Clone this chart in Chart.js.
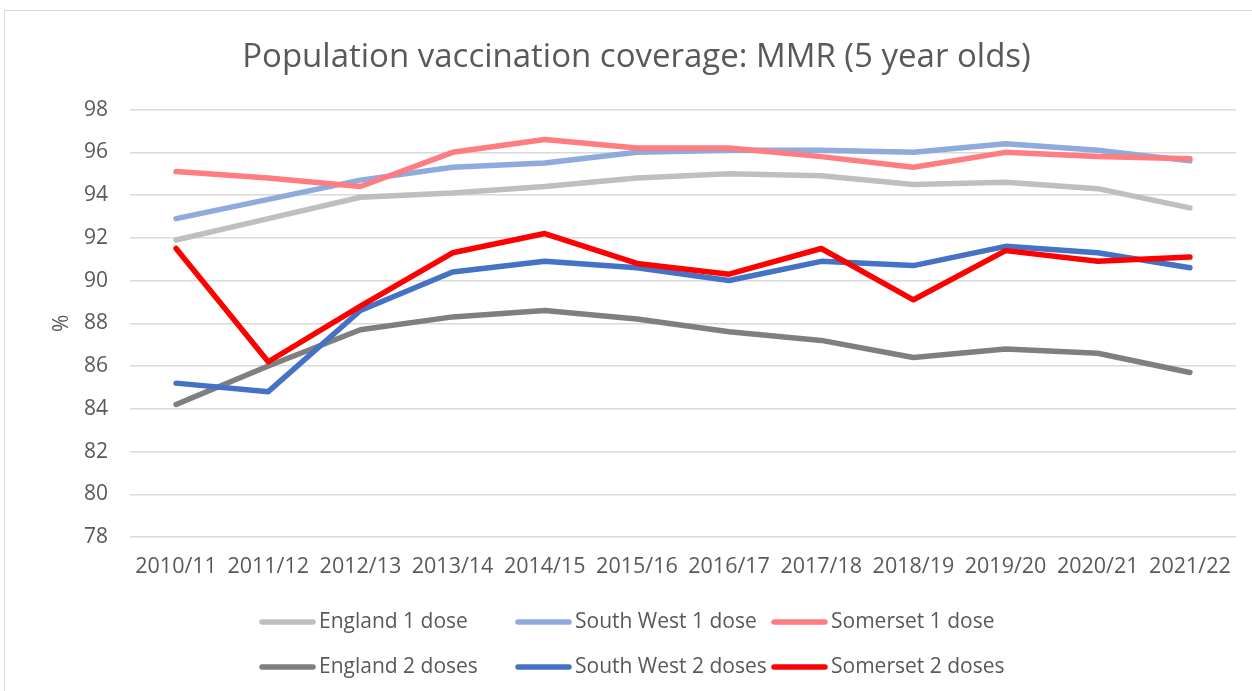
<!DOCTYPE html>
<html>
<head>
<meta charset="utf-8">
<script src="https://cdn.jsdelivr.net/npm/chart.js@4/dist/chart.umd.min.js"></script>
<style>
  html, body { margin: 0; padding: 0; background: #ffffff; }
  #frame { position: absolute; left: 4px; top: 10px; width: 1300px; height: 760px; border: 1px solid #d9d9d9; box-sizing: border-box; }
  #wrap { position: absolute; left: 0; top: 0; width: 1252px; height: 691px; }
</style>
</head>
<body>
<div id="frame"></div>
<div id="wrap"><canvas id="c" width="1252" height="691"></canvas></div>
<script>
const categories = ['2010/11','2011/12','2012/13','2013/14','2014/15','2015/16','2016/17','2017/18','2018/19','2019/20','2020/21','2021/22'];
const england1 = [91.9, 92.9, 93.9, 94.1, 94.4, 94.8, 95.0, 94.9, 94.5, 94.6, 94.3, 93.4];
const southWest1 = [92.9, 93.8, 94.7, 95.3, 95.5, 96.0, 96.1, 96.1, 96.0, 96.4, 96.1, 95.6];
const somerset1 = [95.1, 94.8, 94.4, 96.0, 96.6, 96.2, 96.2, 95.8, 95.3, 96.0, 95.8, 95.7];
const england2 = [84.2, 86.0, 87.7, 88.3, 88.6, 88.2, 87.6, 87.2, 86.4, 86.8, 86.6, 85.7];
const southWest2 = [85.2, 84.8, 88.6, 90.4, 90.9, 90.6, 90.0, 90.9, 90.7, 91.6, 91.3, 90.6];
const somerset2 = [91.5, 86.2, 88.8, 91.3, 92.2, 90.8, 90.3, 91.5, 89.1, 91.4, 90.9, 91.1];
const seriesNames = ['England 1 dose','South West 1 dose','Somerset 1 dose','England 2 doses','South West 2 doses','Somerset 2 doses'];
const yTickMin = 78, yTickMax = 98, yTickStep = 2;

const colors = ['#BFBFBF','#8FAADC','#FF7C80','#7F7F7F','#4472C4','#FF0000'];
const seriesValues = [england1, southWest1, somerset1, england2, southWest2, somerset2];
const FONT = "'Open Sans', 'Liberation Sans', sans-serif";
const TXT = '#595959';
const LW = 5.5;

const datasets = seriesValues.map((vals, i) => ({
  label: seriesNames[i],
  data: vals,
  borderColor: colors[i],
  backgroundColor: colors[i],
  borderWidth: LW,
  borderCapStyle: 'round',
  borderJoinStyle: 'round',
  pointRadius: 0,
  pointHoverRadius: 0,
  tension: 0,
  fill: false,
  order: seriesValues.length - i
}));

const gridLegend = {
  id: 'gridLegend',
  afterDraw(chart) {
    const ctx = chart.ctx;
    const colX = [260, 516, 772];
    const rowY = [622, 667];
    ctx.save();
    ctx.font = '21px ' + FONT;
    ctx.textBaseline = 'middle';
    ctx.textAlign = 'left';
    chart.data.datasets.forEach((ds, i) => {
      const x = colX[i % 3], y = rowY[Math.floor(i / 3)];
      ctx.strokeStyle = ds.borderColor;
      ctx.lineWidth = LW;
      ctx.lineCap = 'round';
      ctx.beginPath();
      ctx.moveTo(x + 2, y);
      ctx.lineTo(x + 53, y);
      ctx.stroke();
      ctx.fillStyle = TXT;
      ctx.fillText(ds.label, x + 59, y);
    });
    ctx.restore();
  }
};

new Chart(document.getElementById('c'), {
  type: 'line',
  data: { labels: categories, datasets },
  plugins: [gridLegend],
  options: {
    responsive: false,
    animation: false,
    events: [],
    layout: { padding: { left: 37, right: 16, top: 0, bottom: 112 } },
    plugins: {
      legend: { display: false },
      tooltip: { enabled: false },
      title: {
        display: true,
        text: 'Population vaccination coverage: MMR (5 year olds)',
        color: TXT,
        font: { family: FONT, size: 33, weight: 'normal', lineHeight: 1.2 },
        padding: { top: 38, bottom: 32 }
      }
    },
    scales: {
      x: {
        offset: true,
        grid: { display: false, drawTicks: false },
        border: { display: false },
        ticks: { color: TXT, font: { family: FONT, size: 21.5 }, padding: 17, maxRotation: 0, autoSkip: false },
        afterFit(s) { s.height = 42; }
      },
      y: {
        min: yTickMin, max: yTickMax,
        grid: { color: '#d9d9d9', lineWidth: 1.5, drawTicks: false },
        border: { display: false },
        ticks: { stepSize: yTickStep, color: TXT, font: { family: FONT, size: 21 }, padding: 22 },
        title: { display: true, text: '%', color: TXT, font: { family: FONT, size: 21 }, padding: { top: 12, bottom: 10 } },
        afterFit(s) { s.width = 93; }
      }
    }
  }
});
</script>
</body>
</html>
